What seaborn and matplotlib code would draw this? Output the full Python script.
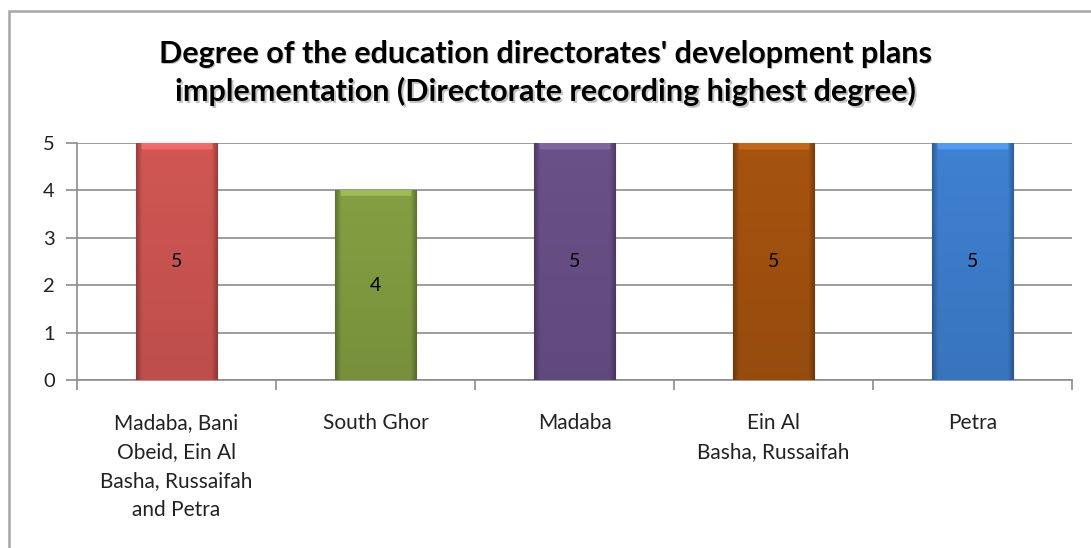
import numpy as np
import pandas as pd
import matplotlib
matplotlib.use("Agg")
import matplotlib.pyplot as plt
from matplotlib.colors import to_rgb
from matplotlib.patches import Rectangle
import seaborn as sns

# Directorates and their recorded implementation degree
directorates = [
    "Madaba, Bani\nObeid, Ein Al\nBasha, Russaifah\nand Petra",
    "South Ghor",
    "Madaba",
    "Ein Al\nBasha, Russaifah",
    "Petra",
]
degrees = [5, 4, 5, 5, 5]
bar_colors = ["#CB5451", "#809B40", "#674F85", "#A2510F", "#3D7DCC"]
y_ticks = [0, 1, 2, 3, 4, 5]
title = ("Degree of the education directorates' development plans\n"
         "implementation (Directorate recording highest degree)")

sns.set_theme(style="white")
plt.rcParams["font.family"] = ["Lato", "DejaVu Sans"]

df = pd.DataFrame({"directorate": directorates, "degree": degrees})

fig = plt.figure(figsize=(10.91, 5.48), dpi=100)
ax = fig.add_axes([77 / 1091, 1 - 380 / 548, (1072 - 77) / 1091, (380 - 143) / 548])

sns.barplot(data=df, x="directorate", y="degree", hue="directorate",
            palette=bar_colors, width=0.41, legend=False, ax=ax,
            saturation=1, zorder=3)

# shaded bevel on each bar
for patch, col in zip(ax.patches, bar_colors):
    x0, w, h = patch.get_x(), patch.get_width(), patch.get_height()
    base = np.array(to_rgb(col))
    nx, ny = 60, 160
    u = np.linspace(0, 1, nx)
    v = np.linspace(0, 1, ny)[:, None]  # 0 = top
    edge = np.clip(np.minimum(u, 1 - u) / 0.07, 0, 1)
    shade = 0.74 + 0.26 * edge[None, :]
    shade = shade * (1.03 - 0.10 * v)
    img = np.clip(base[None, None, :] * shade[:, :, None], 0, 1)
    # lighter strip at the top
    top_rows = int(ny * 0.025) + 1
    img[:top_rows, 4:-4] = np.clip(base * 1.15 + 0.04, 0, 1)
    im = ax.imshow(img, extent=[x0, x0 + w, 0, h], aspect="auto",
                   origin="upper", zorder=4, interpolation="bilinear")
    im.set_clip_path(patch)
    patch.set_edgecolor(tuple(base * 0.6))
    patch.set_linewidth(0.8)
    ax.text(x0 + w / 2, h / 2, f"{h:g}", ha="center", va="center",
            fontsize=14, color="black", zorder=6)

ax.set_xlim(-0.5, len(directorates) - 0.5)
ax.set_ylim(0, 5)
ax.set_yticks(y_ticks)
ax.set_xlabel("")
ax.set_ylabel("")

grid_col = "#8C8C8C"
ax.yaxis.grid(True, color=grid_col, linewidth=1.2, zorder=1)
ax.set_axisbelow(True)
for side in ["top", "right"]:
    ax.spines[side].set_visible(False)
for side in ["left", "bottom"]:
    ax.spines[side].set_color(grid_col)
    ax.spines[side].set_linewidth(1.2)

ax.tick_params(axis="y", which="major", length=8, width=1.2, color=grid_col,
               direction="out", labelsize=14.5, pad=8, left=True)
ax.set_xticks(np.arange(-0.5, len(directorates) + 0.5, 1), minor=True)
ax.tick_params(axis="x", which="minor", length=7, width=1.2, color=grid_col,
               direction="out", bottom=True)
ax.tick_params(axis="x", which="major", length=0, labelsize=15, pad=24)
for lbl in ax.get_xticklabels():
    lbl.set_linespacing(1.55)
    lbl.set_verticalalignment("top")
    lbl.set_color("#222222")
for lbl in ax.get_yticklabels():
    lbl.set_color("#222222")

# chart title with a soft drop shadow
for dx, dy, c, a in [(1.5, -1.5, "#555555", 0.35), (0, 0, "black", 1.0)]:
    fig.text(0.5 + dx / 1091, 1 - 73 / 548 + dy / 548, title, ha="center",
             va="center", fontsize=22, fontweight="bold", color=c, alpha=a,
             linespacing=1.4)

# outer chart frame
fig.patches.append(Rectangle((9 / 1091, -0.1), 1.2, 1 - 11 / 548 + 0.1,
                             transform=fig.transFigure, fill=False,
                             edgecolor="#A6A6A6", linewidth=1.8))

fig.savefig("out.png", dpi=100)
